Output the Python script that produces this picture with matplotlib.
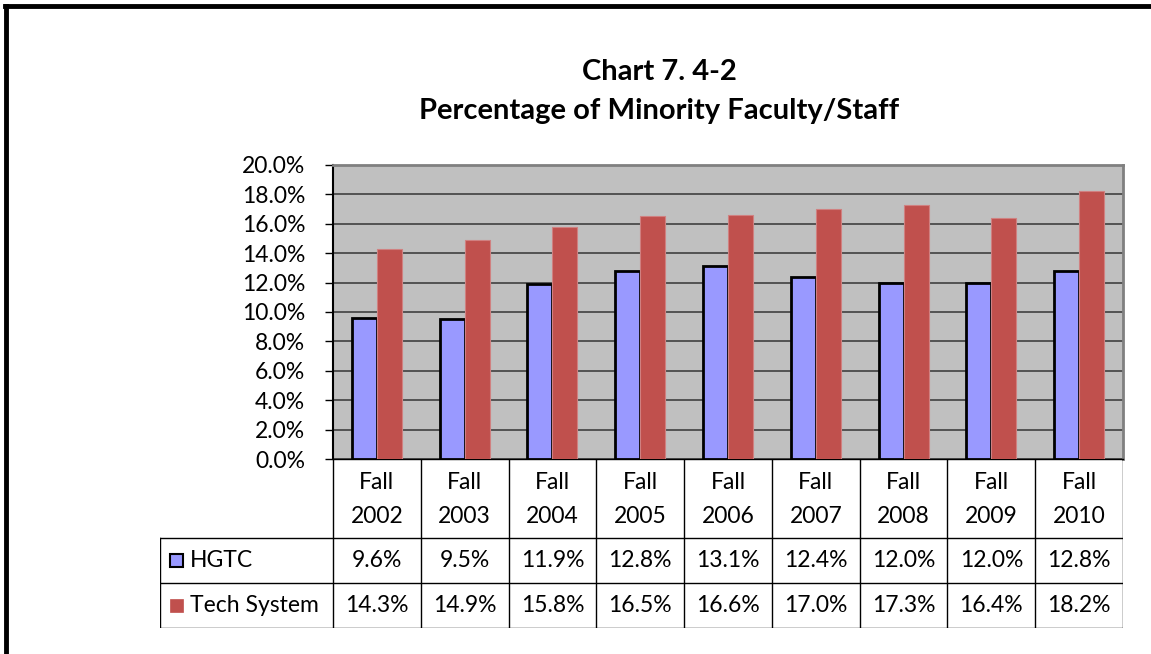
#! /usr/bin/env python3

import matplotlib
matplotlib.use("Agg")
import matplotlib.pyplot as plt
import numpy as np
from matplotlib.lines import Line2D
from matplotlib.patches import Rectangle

years = ["Fall\n2002", "Fall\n2003", "Fall\n2004", "Fall\n2005", "Fall\n2006",
         "Fall\n2007", "Fall\n2008", "Fall\n2009", "Fall\n2010"]
hgtc = [9.6, 9.5, 11.9, 12.8, 13.1, 12.4, 12.0, 12.0, 12.8]
tech = [14.3, 14.9, 15.8, 16.5, 16.6, 17.0, 17.3, 16.4, 18.2]
seriesNames = ["HGTC", "Tech System"]
yTicks = [0, 2, 4, 6, 8, 10, 12, 14, 16, 18, 20]

W, H = 1151, 654
blue = "#9999FF"
red = "#C0504D"
font = "Lato"
fs = 16.5
plt.rcParams["font.family"] = [font, "DejaVu Sans"]

fig = plt.figure(figsize=(W / 100, H / 100), dpi=100)


def box(x0, y0, x1, y1):
    # pixel box (top-left origin) -> figure fraction rect
    return [x0 / W, 1 - y1 / H, (x1 - x0) / W, (y1 - y0) / H]


# outer frame (top and left edges visible)
fig.add_artist(Line2D([5 / W, 1], [1 - 6 / H, 1 - 6 / H], color="black", lw=3.5))
fig.add_artist(Line2D([6 / W, 6 / W], [0, 1 - 6 / H], color="black", lw=3.5))

fig.text(659 / W, 1 - 72 / H, "Chart 7. 4-2", ha="center", va="center",
         fontsize=21, fontweight="bold")
fig.text(659 / W, 1 - 111 / H, "Percentage of Minority Faculty/Staff",
         ha="center", va="center", fontsize=21, fontweight="bold")

# main plot
px0, px1, py0, py1 = 333, 1123, 165, 459
ax = fig.add_axes(box(px0, py0, px1, py1))
ax.set_facecolor("#C0C0C0")
n = len(years)
x = np.arange(n)
bw = 0.285
ax.bar(x - bw / 2, hgtc, bw, color=blue, edgecolor="black", linewidth=2, zorder=3)
ax.bar(x + bw / 2, tech, bw, color=red, edgecolor="#D08080", linewidth=0.8, zorder=3)
ax.set_xlim(-0.5, n - 0.5)
ax.set_ylim(0, 20)
ax.set_yticks(yTicks)
ax.set_yticklabels([f"{t:.1f}%" for t in yTicks], fontsize=fs)
ax.tick_params(axis="y", direction="out", length=6, width=1, pad=14, colors="black")
ax.set_xticks([])
ax.yaxis.grid(True, color="#404040", linewidth=1.2, zorder=1)
ax.set_axisbelow(True)
ax.spines["left"].set_color("black")
ax.spines["left"].set_linewidth(1.5)
ax.spines["bottom"].set_color("black")
ax.spines["bottom"].set_linewidth(1)
for s in ["top", "right"]:
    ax.spines[s].set_color("#808080")
    ax.spines[s].set_linewidth(2)

# data table below the plot, columns share category units with the plot
colW = (px1 - px0) / n
labW = (px0 - 160) / colW
tx0 = -0.5 - labW
ty0, ty1 = 459, 628
tax = fig.add_axes(box(160, ty0, px1, ty1))
tax.set_xlim(tx0, n - 0.5)
tax.set_ylim(ty1, ty0)
tax.axis("off")
rowY = [459, 538, 583, 628]
lc = "black"
lw = 1
for i in range(n + 1):
    xe = i - 0.5
    tax.plot([xe, xe], [rowY[0], rowY[3]], color=lc, lw=lw)
tax.plot([tx0, tx0], [rowY[1], rowY[3]], color=lc, lw=lw)
for yv in rowY[1:]:
    tax.plot([tx0, n - 0.5], [yv, yv], color=lc, lw=lw)
for i, yl in enumerate(years):
    tax.text(i, (rowY[0] + rowY[1]) / 2 + 1, yl, ha="center", va="center",
             fontsize=fs, linespacing=1.75)
for r, (vals, name, col, ec) in enumerate(zip([hgtc, tech], seriesNames,
                                              [blue, red], ["black", red])):
    yc = (rowY[r + 1] + rowY[r + 2]) / 2
    for i, v in enumerate(vals):
        tax.text(i, yc, f"{v:.1f}%", ha="center", va="center", fontsize=fs)
    sq = 13 / colW
    tax.add_patch(Rectangle((tx0 + 10 / colW, yc - 6.5), sq, 13, facecolor=col,
                            edgecolor=ec, linewidth=1.5 if r == 0 else 0.5))
    tax.text(tx0 + 30 / colW, yc, name, ha="left", va="center", fontsize=fs)

fig.savefig("out.png", dpi=100)
